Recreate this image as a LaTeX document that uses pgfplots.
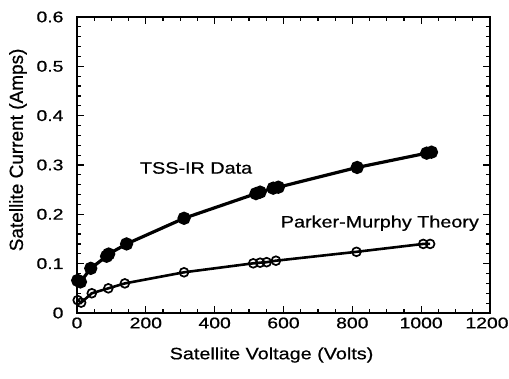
\documentclass[border=0pt]{standalone}
\usepackage{pgfplots}
\pgfplotsset{compat=1.18}
\usepackage{fontspec}
\setmainfont{Liberation Sans}[FakeBold=0.6]
\usepackage{graphicx}
\newcommand\hs[1]{\scalebox{1.25}[1]{#1}}
\newcommand\hl[1]{\scalebox{1.2}[1]{#1}}
\begin{document}
\begin{tikzpicture}
\path[use as bounding box] (-77pt,-66pt) rectangle (432pt,313pt);
\begin{axis}[
  scale only axis,
  width=413pt, height=296pt,
  xmin=0, xmax=1200, ymin=0, ymax=0.6,
  xtick={0,200,400,600,800,1000,1200},
  xticklabels={\hs{0},\hs{200},\hs{400},\hs{600},\hs{800},\hs{1000},{\hbox to 0pt{\hss\hs{1200}\hskip 6pt\hss}}},
  ytick={0,0.1,0.2,0.3,0.4,0.5,0.6},
  yticklabels={\hs{0},\hs{0.1},\hs{0.2},\hs{0.3},\hs{0.4},\hs{0.5},\hs{0.6}},
  minor x tick num=3,
  minor y tick num=4,
  tick align=inside,
  major tick length=7pt,
  minor tick length=4pt,
  every tick/.style={black, line width=1.2pt},
  axis line style={line width=1.6pt},
  ticklabel style={font=\fontsize{15.5}{15.5}\selectfont},
  yticklabel style={xshift=-10pt},
  xticklabel style={yshift=-1pt},
  xlabel={\hl{Satellite Voltage (Volts)}},
  ylabel={Satellite Current (Amps)},
  label style={font=\fontsize{16.5}{16.5}\selectfont},
  xlabel style={at={(axis description cs:0.471,0)}, anchor=center, yshift=-42pt},
  ylabel style={at={(axis description cs:-0.1429,0.551)}, anchor=center, font=\fontsize{19}{19}\selectfont},
]
\addplot[black, line width=3.2pt, mark=*, mark size=5pt, mark options={solid, fill=black}] coordinates {
 (2,0.066) (10,0.063) (40,0.0905) (86,0.115) (92,0.1195) (144,0.140) (311,0.192)
 (520,0.242) (532,0.245) (570,0.253) (585,0.255) (814,0.295) (1016,0.324) (1030,0.326)
};
\addplot[black, line width=2.6pt, mark=o, mark size=4.4pt, mark options={solid, line width=1.7pt, fill=white}] coordinates {
 (2,0.026) (12,0.021) (43,0.040) (91,0.050) (139,0.060) (311,0.0825)
 (512,0.1007) (532,0.102) (551,0.103) (578,0.106) (812,0.124) (1006,0.140) (1026,0.140)
};
\node[font=\fontsize{16.5}{16.5}\selectfont] at (axis cs:346,0.294) {\hl{TSS-IR Data}};
\node[font=\fontsize{16.5}{16.5}\selectfont] at (axis cs:880,0.182) {\hl{Parker-Murphy Theory}};
\end{axis}
\end{tikzpicture}
\end{document}
